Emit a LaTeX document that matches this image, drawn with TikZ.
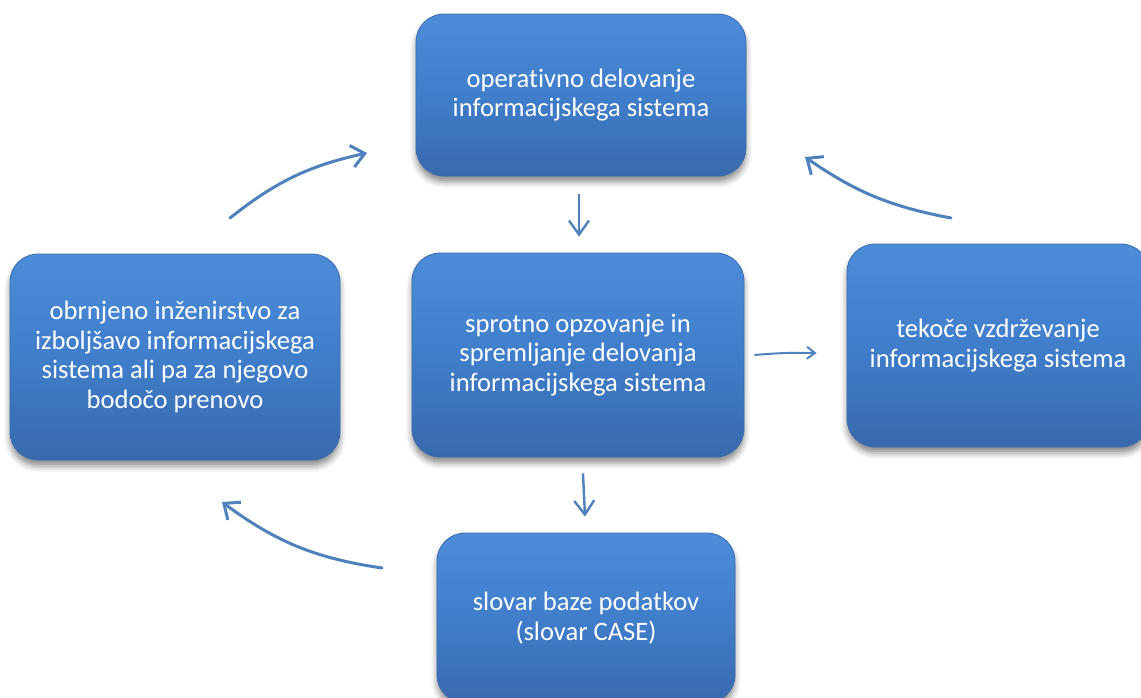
\documentclass[tikz,border=0pt]{standalone}
\usepackage{fontspec}
\setmainfont[Ligatures={NoCommon}]{Carlito}
\usetikzlibrary{arrows.meta,shadows.blur,calc}

\definecolor{boxtop}{RGB}{76,140,216}
\definecolor{boxmid}{RGB}{64,126,203}
\definecolor{boxbot}{RGB}{56,105,172}
\definecolor{boxedge}{RGB}{58,108,176}
\definecolor{arrowblue}{RGB}{79,129,189}

\tikzset{
  stage/.style={
    rounded corners=28pt, draw=boxedge, line width=0.8pt,
    top color=boxtop, bottom color=boxbot, middle color=boxmid,
    blur shadow={shadow xshift=0pt, shadow yshift=-6pt,
                 shadow blur radius=6pt, shadow opacity=45},
    text=white, align=center, inner sep=0pt,
    font=\fontsize{26.6}{29.5}\selectfont
  },
  flow/.style={draw=arrowblue, line width=3pt, line cap=round,
    -{Straight Barb[length=13pt,width=22pt,line width=3pt]}},
  step down/.style={draw=arrowblue, line width=2.4pt,
    -{Straight Barb[length=14pt,width=20pt,line width=2.4pt]}},
  side/.style={draw=arrowblue, line width=2pt,
    -{Straight Barb[length=8pt,width=12pt,line width=2pt]}}
}

\begin{document}
\begin{tikzpicture}[x=1pt,y=-1pt]
  \useasboundingbox (0,0) rectangle (1141,697);

  % process stages
  \node[stage, minimum width=330pt, minimum height=162pt] (top) at (581,95)
    {operativno delovanje\\informacijskega sistema};
  \node[stage, minimum width=330pt, minimum height=206pt] (left) at (175,357)
    {obrnjeno inženirstvo za\\izboljšavo informacijskega\\sistema ali pa za njegovo\\bodočo prenovo};
  \node[stage, minimum width=332pt, minimum height=204pt] (mid) at (578,355)
    {sprotno opzovanje in\\spremljanje delovanja\\informacijskega sistema};
  \node[stage, minimum width=302pt, minimum height=203pt] (right) at (998,345.5)
    {tekoče vzdrževanje\\informacijskega sistema};
  \node[stage, minimum width=298pt, minimum height=170pt] (bottom) at (586,618)
    {slovar baze podatkov\\(slovar CASE)};

  % free ends of the cycle arrows
  \coordinate (leftOut)   at (230,218);
  \coordinate (topInL)    at (367,153);
  \coordinate (rightOut)  at (951,218);
  \coordinate (topInR)    at (805,157);
  \coordinate (bottomOut) at (382,568);
  \coordinate (leftIn)    at (222,502);

  % cycle arrows
  \draw[flow] (leftOut) to[bend left=13] (topInL);
  \draw[flow] (rightOut) to[bend left=12] (topInR);
  \draw[flow] (bottomOut) to[bend left=14] (leftIn);

  % straight arrows from the monitoring stage
  \draw[step down] ($(top.south)+(-2,18)$) -- ($(mid.north)+(1,-16)$);
  \draw[step down] ($(mid.south)+(5,16)$) -- ($(bottom.north)+(-1,-16)$);
  \draw[side] ($(mid.east)+(10,0)$) to[bend left=3] ($(right.west)+(-30,7.5)$);
\end{tikzpicture}
\end{document}
